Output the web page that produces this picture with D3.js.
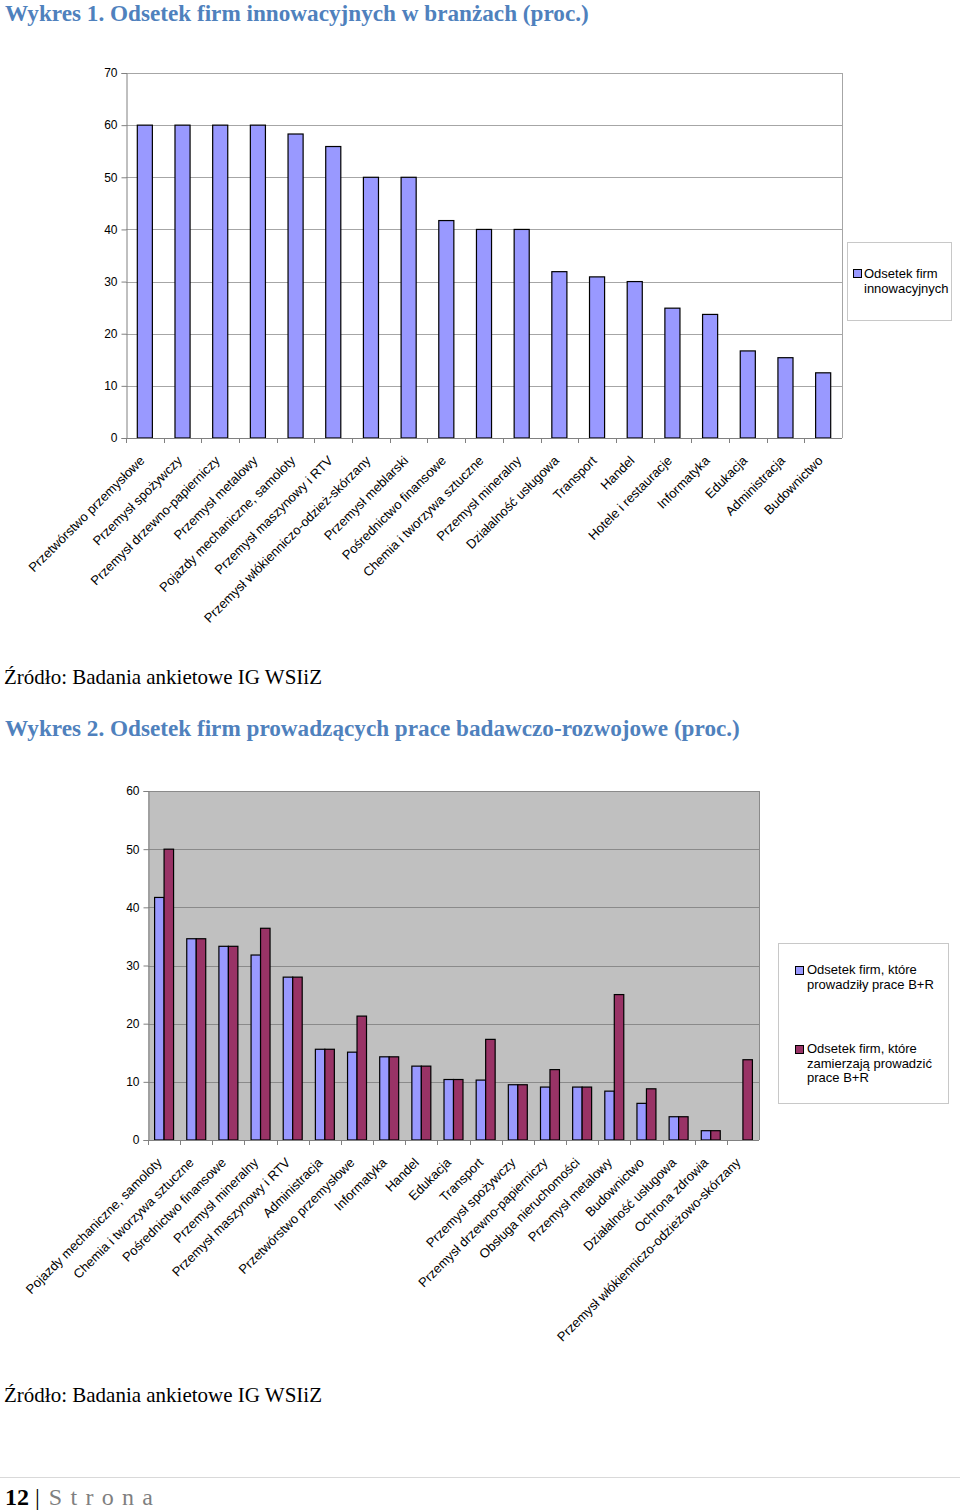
<!DOCTYPE html>
<html>
<head>
<meta charset="utf-8">
<script src="https://cdn.jsdelivr.net/npm/d3@7"></script>
<style>
  body { margin: 0; background: #fff; }
  svg { display: block; }
</style>
</head>
<body>
<div id="page"></div>
<script>
// data, chart 1
var cats1 = ["Przetwórstwo przemysłowe", "Przemysł spożywczy", "Przemysł drzewno-papierniczy",
  "Przemysł metalowy", "Pojazdy mechaniczne, samoloty", "Przemysł maszynowy i RTV",
  "Przemysł włókienniczo-odzież-skórzany", "Przemysł meblarski", "Pośrednictwo finansowe",
  "Chemia i tworzywa sztuczne", "Przemysł mineralny", "Działalność usługowa", "Transport",
  "Handel", "Hotele i restauracje", "Informatyka", "Edukacja", "Administracja", "Budownictwo"];
var innov = [60, 60, 60, 60, 58.3, 55.9, 50, 50, 41.7, 40, 40, 31.9, 30.9, 30, 24.9, 23.7, 16.7, 15.4, 12.5];
var yTicks1 = [0, 10, 20, 30, 40, 50, 60, 70];
var legend1 = ["Odsetek firm", "innowacyjnych"];

// data, chart 2
var cats2 = ["Pojazdy mechaniczne, samoloty", "Chemia i tworzywa sztuczne", "Pośrednictwo finansowe",
  "Przemysł mineralny", "Przemysł maszynowy i RTV", "Administracja", "Przetwórstwo przemysłowe",
  "Informatyka", "Handel", "Edukacja", "Transport", "Przemysł spożywczy",
  "Przemysł drzewno-papierniczy", "Obsługa nieruchomości", "Przemysł metalowy", "Budownictwo",
  "Działalność usługowa", "Ochrona zdrowia", "Przemysł włókienniczo-odzieżowo-skórzany"];
var didRD = [41.7, 34.6, 33.3, 31.8, 28.0, 15.6, 15.1, 14.3, 12.7, 10.4, 10.3, 9.5, 9.1, 9.1, 8.4, 6.3, 4.0, 1.6, 0];
var planRD = [50, 34.6, 33.3, 36.4, 28.0, 15.6, 21.3, 14.3, 12.7, 10.4, 17.3, 9.5, 12.1, 9.1, 25.0, 8.8, 4.0, 1.6, 13.8];
var yTicks2 = [0, 10, 20, 30, 40, 50, 60];
var legend2 = [["Odsetek firm, które", "prowadziły prace B+R"],
               ["Odsetek firm, które", "zamierzają prowadzić", "prace B+R"]];

var blue = "#9999ff", plum = "#993366";
var serif = "'Liberation Serif', 'Times New Roman', serif";
var sans = "'Liberation Sans', Arial, sans-serif";

var svg = d3.select("#page").append("svg")
    .attr("width", 960)
    .attr("height", 1512);

// titles and sources
svg.append("text").attr("x", 5).attr("y", 21)
    .attr("font-family", serif).attr("font-weight", "bold").attr("font-size", 23.2)
    .attr("fill", "#4f81bd")
    .text("Wykres 1. Odsetek firm innowacyjnych w branżach (proc.)");
svg.append("text").attr("x", 4).attr("y", 684)
    .attr("font-family", serif).attr("font-size", 21).attr("fill", "#000")
    .text("Źródło: Badania ankietowe IG WSIiZ");
svg.append("text").attr("x", 5).attr("y", 736)
    .attr("font-family", serif).attr("font-weight", "bold").attr("font-size", 23.2)
    .attr("fill", "#4f81bd")
    .text("Wykres 2. Odsetek firm prowadzących prace badawczo-rozwojowe (proc.)");
svg.append("text").attr("x", 4).attr("y", 1402)
    .attr("font-family", serif).attr("font-size", 21).attr("fill", "#000")
    .text("Źródło: Badania ankietowe IG WSIiZ");

// footer
svg.append("line").attr("x1", 0).attr("x2", 960).attr("y1", 1477.5).attr("y2", 1477.5)
    .attr("stroke", "#d9d9d9");
var foot = svg.append("text").attr("x", 5).attr("y", 1505)
    .attr("font-family", serif).attr("font-size", 24);
foot.append("tspan").attr("font-weight", "bold").attr("fill", "#000").text("12");
foot.append("tspan").attr("fill", "#000").text(" | ");
foot.append("tspan").attr("fill", "#7f7f7f").attr("dx", 3).attr("letter-spacing", 8.3).text("Strona");

// ---------- chart 1 ----------
var x1 = d3.scaleBand().domain(cats1).range([126, 842]).paddingInner(0.6).paddingOuter(0.3);
var y1 = d3.scaleLinear().domain([0, 70]).range([438, 73]);

var g1 = svg.append("g");

g1.selectAll(".grid").data(yTicks1.slice(1)).enter().append("line")
    .attr("x1", 126).attr("x2", 842)
    .attr("y1", function(d) { return Math.round(y1(d)) + 0.5; })
    .attr("y2", function(d) { return Math.round(y1(d)) + 0.5; })
    .attr("stroke", "#a6a6a6");
g1.append("line").attr("x1", 842.5).attr("x2", 842.5).attr("y1", 73).attr("y2", 438)
    .attr("stroke", "#a6a6a6");

g1.selectAll(".bar").data(innov).enter().append("rect")
    .attr("x", function(d, i) { return x1(cats1[i]); })
    .attr("y", function(d) { return y1(d); })
    .attr("width", x1.bandwidth())
    .attr("height", function(d) { return y1(0) - y1(d); })
    .attr("fill", blue).attr("stroke", "#000").attr("stroke-width", 1.2);

var ya1 = g1.append("g").attr("transform", "translate(126.5,0)")
    .call(d3.axisLeft(y1).tickValues(yTicks1).tickSize(5).tickPadding(4));
ya1.select(".domain").attr("stroke", "#808080");
ya1.selectAll(".tick line").attr("stroke", "#808080");
ya1.selectAll("text").attr("font-family", sans).attr("font-size", 12).attr("fill", "#000");

var step1 = x1.step();
g1.append("line").attr("x1", 126).attr("x2", 842).attr("y1", 438.5).attr("y2", 438.5)
    .attr("stroke", "#808080");
g1.selectAll(".xt").data(cats1).enter().append("line")
    .attr("x1", function(d) { return Math.round(x1(d) + x1.bandwidth() / 2 - step1 / 2) + 0.5; })
    .attr("x2", function(d) { return Math.round(x1(d) + x1.bandwidth() / 2 - step1 / 2) + 0.5; })
    .attr("y1", 438).attr("y2", 443).attr("stroke", "#808080");

g1.selectAll(".xl").data(cats1).enter().append("text")
    .attr("transform", function(d) {
      return "translate(" + (x1(d) + x1.bandwidth() / 2 - 6) + ",455) rotate(-45)";
    })
    .attr("text-anchor", "end").attr("dy", "0.7em")
    .attr("font-family", sans).attr("font-size", 13).attr("fill", "#000")
    .text(function(d) { return d; });

// legend 1
g1.append("rect").attr("x", 847.5).attr("y", 242.5).attr("width", 104).attr("height", 78)
    .attr("fill", "#fff").attr("stroke", "#c8c8c8");
g1.append("rect").attr("x", 853.5).attr("y", 269.5).attr("width", 8).attr("height", 8)
    .attr("fill", blue).attr("stroke", "#000");
g1.selectAll(".lg").data(legend1).enter().append("text")
    .attr("x", 864).attr("y", function(d, i) { return 278 + i * 15; })
    .attr("font-family", sans).attr("font-size", 13).attr("fill", "#000")
    .text(function(d) { return d; });

// ---------- chart 2 ----------
var x2 = d3.scaleBand().domain(cats2).range([148, 759]).paddingInner(0.41).paddingOuter(0.205);
var xs = d3.scaleBand().domain(["did", "plan"]).range([0, x2.bandwidth()]);
var y2 = d3.scaleLinear().domain([0, 60]).range([1140, 791]);

var g2 = svg.append("g");
g2.append("rect").attr("x", 148).attr("y", 791).attr("width", 611).attr("height", 349)
    .attr("fill", "#c0c0c0");
g2.selectAll(".grid").data(yTicks2.slice(1)).enter().append("line")
    .attr("x1", 148).attr("x2", 759)
    .attr("y1", function(d) { return Math.round(y2(d)) + 0.5; })
    .attr("y2", function(d) { return Math.round(y2(d)) + 0.5; })
    .attr("stroke", "#8a8a8a");
g2.append("line").attr("x1", 759.5).attr("x2", 759.5).attr("y1", 791).attr("y2", 1140)
    .attr("stroke", "#8a8a8a");

var series = [{key: "did", vals: didRD, color: blue}, {key: "plan", vals: planRD, color: plum}];
series.forEach(function(s) {
  g2.append("g").selectAll("rect")
    .data(s.vals.map(function(v, i) { return {cat: cats2[i], v: v}; })
                .filter(function(d) { return d.v > 0; }))
    .enter().append("rect")
      .attr("x", function(d) { return x2(d.cat) + xs(s.key); })
      .attr("y", function(d) { return y2(d.v); })
      .attr("width", xs.bandwidth())
      .attr("height", function(d) { return y2(0) - y2(d.v); })
      .attr("fill", s.color).attr("stroke", "#000").attr("stroke-width", 1.2);
});

var ya2 = g2.append("g").attr("transform", "translate(148.5,0)")
    .call(d3.axisLeft(y2).tickValues(yTicks2).tickSize(5).tickPadding(4));
ya2.select(".domain").attr("stroke", "#808080");
ya2.selectAll(".tick line").attr("stroke", "#808080");
ya2.selectAll("text").attr("font-family", sans).attr("font-size", 12).attr("fill", "#000");

var step2 = x2.step();
g2.append("line").attr("x1", 148).attr("x2", 759).attr("y1", 1140.5).attr("y2", 1140.5)
    .attr("stroke", "#808080");
g2.selectAll(".xt").data(cats2).enter().append("line")
    .attr("x1", function(d) { return Math.round(x2(d) + x2.bandwidth() / 2 - step2 / 2) + 0.5; })
    .attr("x2", function(d) { return Math.round(x2(d) + x2.bandwidth() / 2 - step2 / 2) + 0.5; })
    .attr("y1", 1140).attr("y2", 1145).attr("stroke", "#808080");

g2.selectAll(".xl").data(cats2).enter().append("text")
    .attr("transform", function(d) {
      return "translate(" + (x2(d) + x2.bandwidth() / 2 - 8) + ",1157) rotate(-45)";
    })
    .attr("text-anchor", "end").attr("dy", "0.7em")
    .attr("font-family", sans).attr("font-size", 13).attr("fill", "#000")
    .text(function(d) { return d; });

// legend 2
g2.append("rect").attr("x", 778.5).attr("y", 943.5).attr("width", 170).attr("height", 160)
    .attr("fill", "#fff").attr("stroke", "#c8c8c8");
var lgTop = [974, 1053];
legend2.forEach(function(lines, k) {
  g2.append("rect").attr("x", 795.5).attr("y", lgTop[k] - 7.5).attr("width", 8).attr("height", 8)
    .attr("fill", k === 0 ? blue : plum).attr("stroke", "#000");
  lines.forEach(function(t, j) {
    g2.append("text").attr("x", 807).attr("y", lgTop[k] + j * 14.5)
      .attr("font-family", sans).attr("font-size", 13).attr("fill", "#000")
      .text(t);
  });
});
</script>
</body>
</html>
